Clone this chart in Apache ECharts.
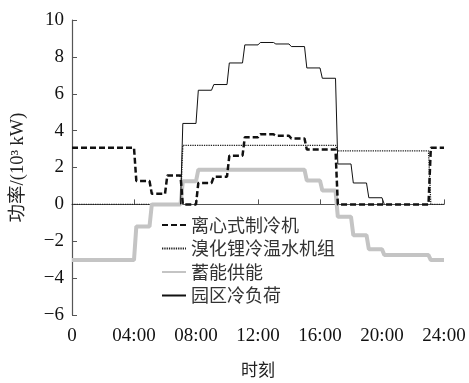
<!DOCTYPE html>
<html><head><meta charset="utf-8">
<script src="https://cdn.jsdelivr.net/npm/echarts@6/dist/echarts.min.js"></script>
<style>html,body{margin:0;padding:0;background:#fff}#c{width:469px;height:383px}</style>
</head><body><div id="c"></div>
<script>
// hourly values (10^3 kW), hour index 0..23
const HOURS = [0,1,2,3,4,5,6,7,8,9,10,11,12,13,14,15,16,17,18,19,20,21,22,23];
const CHILLER = [3.07,3.07,3.07,3.07,1.27,0.57,1.57,0,1.16,1.5,2.64,3.64,3.8,3.72,3.57,2.98,2.98,0,0,0,0,0,0,3.07];
const LIBR    = [0,0,0,0,0,0,0,3.2,3.2,3.2,3.2,3.2,3.2,3.2,3.2,3.2,3.2,2.9,2.9,2.9,2.9,2.9,2.9,0];
const STORAGE = [-3.02,-3.02,-3.02,-3.02,-1.2,0,0,1.25,1.88,1.88,1.88,1.88,1.88,1.88,1.88,1.29,0.75,-0.67,-1.67,-2.43,-2.75,-2.75,-2.75,-3.02];
const LOAD    = [0,0,0,0,0,0,0,4.39,6.19,6.5,7.67,8.65,8.78,8.7,8.56,7.4,6.84,2.19,1.16,0.36,0,0,0,0];
const SERIES_NAMES = ['离心式制冷机','溴化锂冷温水机组','蓄能供能','园区冷负荷'];
const X_TICKS = ['0','04:00','08:00','12:00','16:00','20:00','24:00'];
const Y_TICKS = ['−6','−4','−2','0','2','4','6','8','10'];

const RAMP = 0.15; // transition width between hourly steps
function steps(vals){
  const pts=[];
  HOURS.forEach((h,i)=>{
    pts.push([i===0?h:h+RAMP, vals[i]]);
    pts.push([h+1, vals[i]]);
  });
  return pts;
}
function trimmedSteps(vals){
  let f = vals.findIndex(v=>v!==0);
  let l = vals.length-1; while(l>0 && vals[l]===0) l--;
  const pts = [[HOURS[f],0]];
  for(let i=f;i<=l;i++){ pts.push([HOURS[i]+RAMP, vals[i]]); pts.push([HOURS[i]+1, vals[i]]); }
  pts.push([HOURS[l]+1+RAMP,0]);
  return pts;
}

const serif = '"Liberation Serif","Times New Roman","Noto Sans CJK SC",serif';
const chart = echarts.init(document.getElementById('c'), null, {renderer:'canvas'});
chart.setOption({
  animation:false,
  backgroundColor:'#fff',
  grid:{left:72,right:25,top:20,bottom:66,containLabel:false},
  legend:{
    orient:'vertical', left:156, top:211, itemWidth:24, itemHeight:12, itemGap:5.5,
    itemStyle:{opacity:0},
    textStyle:{fontFamily:'"Noto Sans CJK SC",sans-serif', fontSize:18, color:'#333'},
    data:SERIES_NAMES
  },
  xAxis:{
    type:'value', min:0, max:24, interval:4,
    name:'时刻', nameLocation:'middle', nameGap:46,
    nameTextStyle:{fontFamily:'"Noto Sans CJK SC",sans-serif', fontSize:17, color:'#222'},
    axisLine:{lineStyle:{color:'#555',width:1.2}},
    axisTick:{inside:true,length:5,lineStyle:{color:'#555'}},
    axisLabel:{margin:12, fontFamily:serif, fontSize:19, color:'#111',
      formatter:v=>X_TICKS[Math.round(v/4)]},
    splitLine:{show:false}
  },
  yAxis:{
    type:'value', min:-6, max:10, interval:2,
    name:'功率/(10³ kW)', nameLocation:'middle', nameGap:45, nameRotate:90,
    nameTextStyle:{fontFamily:serif, fontSize:18.5, color:'#222'},
    axisLine:{show:true,lineStyle:{color:'#555',width:1.2}},
    axisTick:{show:true,inside:true,length:5,lineStyle:{color:'#555'}},
    axisLabel:{margin:8, fontFamily:serif, fontSize:19, color:'#111',
      formatter:v=>Y_TICKS[Math.round((v+6)/2)]},
    splitLine:{show:false}
  },
  series:[
    {name:SERIES_NAMES[1], type:'line', symbol:'none', data:steps(LIBR), z:2,
     lineStyle:{color:'#222',width:1.3,type:[1.3,1]}, itemStyle:{color:'#222'}},
    {name:SERIES_NAMES[2], type:'line', symbol:'none', data:steps(STORAGE), z:3,
     lineStyle:{color:'#c4c4c4',width:4}, itemStyle:{color:'#c4c4c4'}},
    {name:SERIES_NAMES[3], type:'line', symbol:'none', data:trimmedSteps(LOAD), z:4,
     lineStyle:{color:'#111',width:1}, itemStyle:{color:'#111'}},
    {name:SERIES_NAMES[0], type:'line', symbol:'none', data:steps(CHILLER), z:5,
     lineStyle:{color:'#111',width:2.5,type:[6,3]}, itemStyle:{color:'#111'}}
  ]
});
</script></body></html>
